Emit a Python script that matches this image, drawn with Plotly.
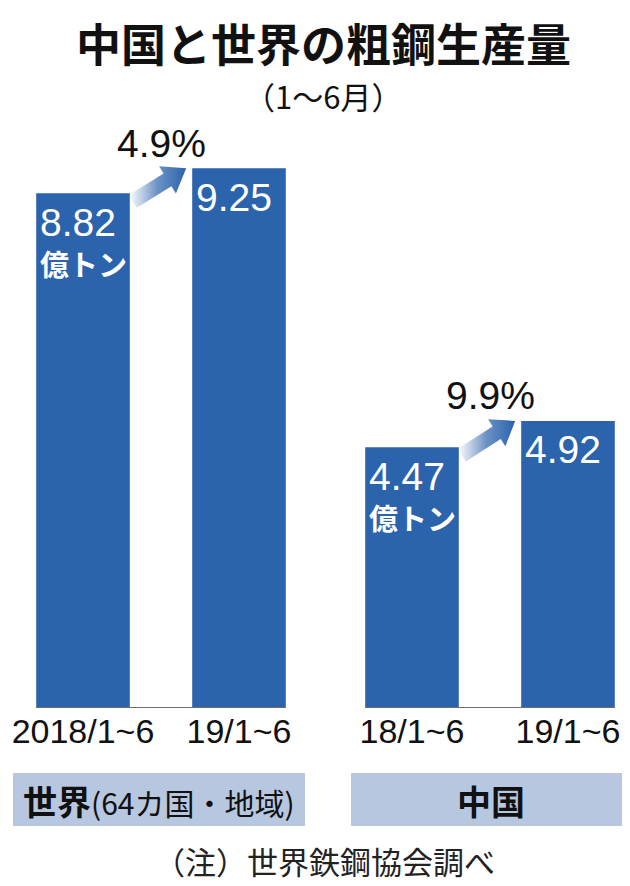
import numpy as np
import plotly.graph_objects as go

# ---- data ----
title = "中国と世界の粗鋼生産量"
subtitle = "（1～6月）"
world_labels = ["2018/1~6", "19/1~6"]
world_values = [8.82, 9.25]
china_labels = ["18/1~6", "19/1~6"]
china_values = [4.47, 4.92]
world_growth = "4.9%"
china_growth = "9.9%"
unit = "億トン"
world_group = "世界"
world_group_note = "(64カ国・地域)"
china_group = "中国"
note = "（注）世界鉄鋼協会調べ"

# ---- layout constants ----
W, H = 630, 886
MT, MB = 100, 186
PLOT_H = H - MT - MB
PX_PER_CAT = 156
Y_SCALE = 58.35
YMAX = PLOT_H / Y_SCALE
BAR_W = 0.6
BLUE = "#2b63ac"
BOX = "#b8c7e0"
CJK = "Noto Sans CJK JP"
SANS = "Liberation Sans, Arial, sans-serif"

# world subplot: pixel 0..310, category 0 center at px 75
# china subplot: pixel 320..630, category 0 center at px 404
W_DOM = (0, 310, 75)
C_DOM = (320, 630, 404)


def px_x(px):
    return px / W


def px_y(py):
    return (H - MB - py) / PLOT_H


def arrow_xy(v0, v1):
    tx = (BAR_W / 2) * PX_PER_CAT + 3
    ty = v0 * Y_SCALE - 8
    hx = (1 - BAR_W / 2) * PX_PER_CAT - 6
    hy = v1 * Y_SCALE
    d = np.array([hx - tx, hy - ty], dtype=float)
    d /= np.hypot(*d)
    n = np.array([-d[1], d[0]])
    sw, hw, hl = 7.5, 16, 22
    tail = np.array([tx, ty])
    tip = np.array([hx, hy])
    neck = tip - d * hl
    pts = [tail + n * sw, neck + n * sw, neck + n * hw, tip,
           neck - n * hw, neck - n * sw, tail - n * sw, tail + n * sw]
    return [p[0] / PX_PER_CAT for p in pts], [p[1] / Y_SCALE for p in pts]


fig = go.Figure()

groups = [
    ("x", "y", world_labels, world_values, world_growth),
    ("x2", "y2", china_labels, china_values, china_growth),
]

annotations = []
shapes = []
for xa, ya, labels, values, growth in groups:
    fig.add_trace(go.Bar(
        x=[0, 1], y=values, width=BAR_W, xaxis=xa, yaxis=ya,
        marker=dict(color=BLUE, line=dict(width=0)),
        hoverinfo="skip", showlegend=False,
    ))
    ax, ay = arrow_xy(values[0], values[1])
    fig.add_trace(go.Scatter(
        x=ax, y=ay, xaxis=xa, yaxis=ya, mode="lines", fill="toself",
        line=dict(width=0, color="rgba(0,0,0,0)"),
        fillgradient=dict(type="horizontal", colorscale=[
            [0, "rgba(43,99,172,0.0)"], [0.5, "rgba(43,99,172,0.7)"], [1, BLUE]]),
        hoverinfo="skip", showlegend=False,
    ))
    # baseline
    shapes.append(dict(type="line", xref=xa, yref=ya, x0=-BAR_W / 2, x1=1 + BAR_W / 2,
                       y0=0, y1=0, line=dict(color="#6e6e6e", width=2)))
    # value labels
    for i, v in enumerate(values):
        annotations.append(dict(
            xref=xa, yref=ya, x=i - BAR_W / 2, y=v, xanchor="left", yanchor="middle",
            xshift=2, yshift=-29, showarrow=False, text=f"{v:.2f}",
            font=dict(family=SANS, size=39, color="white")))
    annotations.append(dict(
        xref=xa, yref=ya, x=-BAR_W / 2, y=values[0], xanchor="left", yanchor="middle",
        xshift=2, yshift=-70, showarrow=False, text=unit,
        font=dict(family=CJK, size=29, color="white", weight=700)))
    # growth label
    annotations.append(dict(
        xref=xa, yref=ya, x=0.5, y=values[1], xanchor="center", yanchor="middle",
        yshift=25, showarrow=False, text=growth,
        font=dict(family=SANS, size=39, color="#111")))

# title / subtitle
annotations.append(dict(xref="paper", yref="paper", x=0.5, y=px_y(35), xanchor="center",
                        yanchor="middle", showarrow=False, text=f"<b>{title}</b>",
                        font=dict(family=CJK, size=45, color="#111")))
annotations.append(dict(xref="paper", yref="paper", x=0.5, y=px_y(88), xanchor="center",
                        yanchor="middle", showarrow=False, text=subtitle,
                        font=dict(family=CJK, size=31, color="#111")))

# group boxes
for (x0, x1), text in [((5, 297), f"<b>{world_group}</b><span style='font-size:30px'>{world_group_note}</span>"),
                       ((343, 623), f"<b>{china_group}</b>")]:
    shapes.append(dict(type="rect", xref="paper", yref="paper", x0=px_x(x0), x1=px_x(x1),
                       y0=px_y(818), y1=px_y(765), fillcolor=BOX, line=dict(width=0),
                       layer="below"))
    annotations.append(dict(xref="paper", yref="paper", x=px_x((x0 + x1) / 2), y=px_y(792),
                            xanchor="center", yanchor="middle", showarrow=False, text=text,
                            font=dict(family=CJK, size=34, color="#111")))

# footnote
annotations.append(dict(xref="paper", yref="paper", x=px_x(316), y=px_y(853), xanchor="center",
                        yanchor="middle", showarrow=False, text=note,
                        font=dict(family=CJK, size=31, color="#222")))

axis_common = dict(showgrid=False, zeroline=False, showline=False, ticks="",
                   tickmode="array", tickvals=[0, 1], ticklabeloverflow="allow",
                   tickfont=dict(family=SANS, size=34, color="#111"))
yaxis_common = dict(range=[0, YMAX], visible=False, fixedrange=True, domain=[0, 1])

fig.update_layout(
    width=W, height=H, margin=dict(l=0, r=0, t=MT, b=MB),
    paper_bgcolor="white", plot_bgcolor="white",
    xaxis=dict(domain=[px_x(W_DOM[0]), px_x(W_DOM[1])],
               range=[(W_DOM[0] - W_DOM[2]) / PX_PER_CAT, (W_DOM[1] - W_DOM[2]) / PX_PER_CAT],
               ticktext=world_labels, anchor="y", **axis_common),
    xaxis2=dict(domain=[px_x(C_DOM[0]), px_x(C_DOM[1])],
                range=[(C_DOM[0] - C_DOM[2]) / PX_PER_CAT, (C_DOM[1] - C_DOM[2]) / PX_PER_CAT],
                ticktext=china_labels, anchor="y2", **axis_common),
    yaxis=dict(anchor="x", **yaxis_common),
    yaxis2=dict(anchor="x2", **yaxis_common),
    annotations=annotations, shapes=shapes,
)

fig.write_html("out.html")
